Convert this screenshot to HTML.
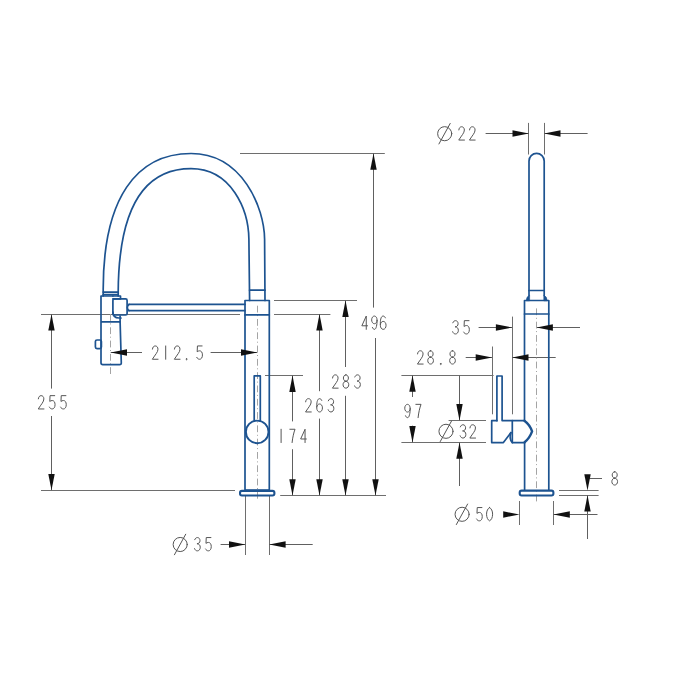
<!DOCTYPE html>
<html><head><meta charset="utf-8"><title>Faucet drawing</title>
<style>html,body{margin:0;padding:0;background:#fff;width:700px;height:700px;overflow:hidden;font-family:"Liberation Sans",sans-serif;}svg{display:block;}</style>
</head><body>
<svg width="700" height="700" viewBox="0 0 700 700">
<rect width="700" height="700" fill="#ffffff"/>
<g fill="none" stroke="#6e6e6e" stroke-width="1">
<path d="M240,153.5 L384.8,153.5"/>
<path d="M274,300.5 L357,300.5"/>
<path d="M274,314.5 L330.4,314.5"/>
<path d="M265,375.5 L303,375.5"/>
<path d="M280.2,495.5 L386,495.5"/>
<path d="M41,314.5 L240,314.5"/>
<path d="M41,490.5 L235,490.5"/>
<path d="M245.5,496 L245.5,555"/>
<path d="M269.5,496 L269.5,555"/>
<path d="M528.5,122.9 L528.5,154.5"/>
<path d="M544.5,122.9 L544.5,154.5"/>
<path d="M512.5,316.6 L512.5,414.3"/>
<path d="M492.5,346.5 L492.5,414.3"/>
<path d="M401.4,375.5 L493.6,375.5"/>
<path d="M401.4,442.5 L486,442.5"/>
<path d="M448.6,420.5 L486,420.5"/>
<path d="M519.5,501 L519.5,525"/>
<path d="M553.5,501 L553.5,525"/>
<path d="M559,490.5 L598.6,490.5"/>
<path d="M559,495.5 L598.6,495.5"/>
</g>
<g fill="none" stroke="#606060" stroke-width="1">
<path d="M373.5,153.3 L373.5,307.6"/>
<path d="M375.5,338 L375.5,495.5"/>
<path d="M345.5,300.6 L345.5,367"/>
<path d="M345.5,395.8 L345.5,495.5"/>
<path d="M319.5,314.1 L319.5,391.2"/>
<path d="M319.5,418.6 L319.5,495.5"/>
<path d="M292.5,375.6 L292.5,421.4"/>
<path d="M292.5,449.2 L292.5,495.5"/>
<path d="M51.5,314.3 L51.5,388.6"/>
<path d="M51.5,416 L51.5,490.2"/>
<path d="M110.7,352.5 L142,352.5"/>
<path d="M210.6,352.5 L257.3,352.5"/>
<path d="M220.6,544.5 L245.3,544.5"/>
<path d="M269.3,544.5 L312.7,544.5"/>
<path d="M485.6,133.5 L528.8,133.5"/>
<path d="M544.2,133.5 L587.6,133.5"/>
<path d="M478.6,327.5 L512.2,327.5"/>
<path d="M536.6,327.5 L580,327.5"/>
<path d="M465.7,357.5 L492,357.5"/>
<path d="M512.2,357.5 L555.7,357.5"/>
<path d="M412.5,375.4 L412.5,397"/>
<path d="M412.5,425.7 L412.5,442.4"/>
<path d="M459.5,375.4 L459.5,420.4"/>
<path d="M459.5,442.4 L459.5,486"/>
<path d="M553.5,514.5 L597.5,514.5"/>
<path d="M587.3,478.5 L602,478.5"/>
<path d="M587.5,495.3 L587.5,539"/>
</g>
<g fill="none" stroke="#a4a4a4" stroke-width="1" stroke-dasharray="6.8,2.6,1,2.9">
<path d="M110.5,314 L110.5,374"/>
<path d="M257.5,305.7 L257.5,499"/>
<path d="M536.5,308.4 L536.5,501.5"/>
</g>
<g fill="none" stroke="#1d5390" stroke-width="1.7" stroke-linejoin="round" stroke-linecap="round">
<path d="M103.2,296 L103.2,292 C102.56,197.74 136.73,153.5 191.02,153.5 C242.48,153.5 264.35,207.85 264.6,239.3 L265.0,300.5"/>
<path d="M118.2,296 L118.2,292 C118.61,217.89 138.23,168.7 191.02,168.7 C231.28,168.7 248.51,209.33 248.9,239.3 L249.6,300.5"/>
<path d="M103.2,292.1 L118.2,292.1"/>
<path d="M103.2,294.6 L118.2,294.6"/>
<path d="M249.6,290.2 L265.0,290.2"/>
<rect x="245" y="300.5" width="24.3" height="189.5"/>
<path d="M245,314.9 L269.3,314.9"/>
<rect x="240" y="490.9" width="34.4" height="4.6" rx="1.9" stroke-width="2.1"/>
<path d="M254.2,421 V375.8 H260.3 V421"/>
<circle cx="257.2" cy="431.9" r="11.3" stroke-width="1.9"/>
<path d="M129,304.3 L245,304.3"/>
<path d="M129,310.7 L245,310.7"/>
<path d="M129,304.3 C126.8,306 126.8,309 129,310.7"/>
<path d="M112.9,296 H101 V362.8 Q101,364.6 102.8,364.6 H119.6 Q121.4,364.6 121.3,362.8 L120.1,321.8 H101"/>
<path d="M112.9,298.9 H120.5 V296 H112.9"/>
<path d="M120.1,321.8 V316"/>
<rect x="112.9" y="298.9" width="14.2" height="16.1" rx="1.5"/>
<path d="M112.9,312 C112.9,316.5 115,318 119,318 H121"/>
<rect x="95.4" y="340" width="6" height="8.6" rx="1.6"/>
<path d="M529,295.5 V161 A7.6,7.6 0 0 1 544.2,161 V295.5"/>
<path d="M529,290.5 L544.2,290.5"/>
<path d="M524.5,420.6 V300.5 H548.8 V489.7 M524.6,442.4 V489.7"/>
<path d="M524.5,314 L548.8,314"/>
<rect x="519.7" y="490.6" width="33.7" height="4.9" rx="1.9" stroke-width="2.1"/>
<path d="M496.9,420.7 V376 H502.1 V420.6 H524.5"/>
<path d="M496.9,420.7 H491.7 V442.6 H503.4 L510.9,432.6"/>
<path d="M512.3,420.6 V442.6 H524.6"/>
<path d="M510.9,432.6 C509.6,436 509.9,440.6 512.3,442.6"/>
<path stroke-width="2.4" d="M524.4,420.8 Q529.6,424.5 532.1,431.4 Q529.6,438.3 524.6,442.2"/>
</g>
<g fill="#1d5390" stroke="#1d5390" stroke-width="0.6">
<path d="M526.2,300.8 Q526.4,296.2 529.6,295.2 V300.8 Z"/>
<path d="M547.2,300.8 Q547,296.2 543.8,295.2 V300.8 Z"/>
</g>
<g fill="#111111" stroke="none">
<path d="M373.50,153.50 L370.30,169.80 L376.70,169.80 Z"/>
<path d="M375.50,495.50 L372.30,479.20 L378.70,479.20 Z"/>
<path d="M345.50,300.60 L342.30,316.90 L348.70,316.90 Z"/>
<path d="M345.50,495.50 L342.30,479.20 L348.70,479.20 Z"/>
<path d="M319.50,314.10 L316.30,330.40 L322.70,330.40 Z"/>
<path d="M319.50,495.50 L316.30,479.20 L322.70,479.20 Z"/>
<path d="M292.50,375.60 L289.30,391.90 L295.70,391.90 Z"/>
<path d="M292.50,495.50 L289.30,479.20 L295.70,479.20 Z"/>
<path d="M51.50,314.30 L48.30,330.60 L54.70,330.60 Z"/>
<path d="M51.50,490.20 L48.30,473.90 L54.70,473.90 Z"/>
<path d="M110.70,352.50 L127.00,349.30 L127.00,355.70 Z"/>
<path d="M257.30,352.50 L241.00,349.30 L241.00,355.70 Z"/>
<path d="M245.30,544.50 L229.00,541.30 L229.00,547.70 Z"/>
<path d="M269.30,544.50 L285.60,541.30 L285.60,547.70 Z"/>
<path d="M528.80,133.50 L512.50,130.30 L512.50,136.70 Z"/>
<path d="M544.20,133.50 L560.50,130.30 L560.50,136.70 Z"/>
<path d="M512.20,327.50 L495.90,324.30 L495.90,330.70 Z"/>
<path d="M536.60,327.50 L552.90,324.30 L552.90,330.70 Z"/>
<path d="M492.00,357.50 L475.70,354.30 L475.70,360.70 Z"/>
<path d="M512.20,357.50 L528.50,354.30 L528.50,360.70 Z"/>
<path d="M412.50,375.40 L409.30,391.70 L415.70,391.70 Z"/>
<path d="M412.50,442.40 L409.30,426.10 L415.70,426.10 Z"/>
<path d="M459.50,420.40 L456.30,404.10 L462.70,404.10 Z"/>
<path d="M459.50,442.40 L456.30,458.70 L462.70,458.70 Z"/>
<path d="M519.50,514.50 L503.20,511.30 L503.20,517.70 Z"/>
<path d="M553.50,514.50 L569.80,511.30 L569.80,517.70 Z"/>
<path d="M587.50,490.60 L584.30,474.30 L590.70,474.30 Z"/>
<path d="M587.50,495.30 L584.30,511.60 L590.70,511.60 Z"/>
</g>
<g fill="none" stroke="#555555" stroke-width="1.0" stroke-linecap="round" stroke-linejoin="round">
<path transform="translate(361.85,316.05) scale(0.864,0.937)" vector-effect="non-scaling-stroke" d="M5.1,14.2 V0 L0,10.4 H6.6"/>
<path transform="translate(371.65,316.05) scale(0.864,0.937)" vector-effect="non-scaling-stroke" d="M6.3,4.2 C6.3,1.8 4.9,0 3.2,0 C1.4,0 0,1.8 0,4.1 C0,6.4 1.4,8.2 3.2,8.2 C4.9,8.2 6.3,6.4 6.3,4.2 C6.3,9.2 5.3,14.2 3.3,14.2 C2.2,14.2 1.4,13.4 0.9,12.2"/>
<path transform="translate(380.35,316.05) scale(0.864,0.937)" vector-effect="non-scaling-stroke" d="M5.8,1.9 C5.3,0.7 4.3,0 3.2,0 C1.2,0 0,3 0,7.5 V9.8 C0,12.4 1.4,14.2 3.3,14.2 C5.2,14.2 6.6,12.3 6.6,9.9 C6.6,7.5 5.2,5.7 3.3,5.7 C1.6,5.7 0.3,7.1 0,9"/>
<path transform="translate(332.45,374.85) scale(0.864,0.937)" vector-effect="non-scaling-stroke" d="M0.1,3.4 C0.3,1.3 1.6,0 3.3,0 C5.2,0 6.5,1.4 6.5,3.5 C6.5,6.6 3.4,9.2 0,14.2 H6.6"/>
<path transform="translate(343.05,374.85) scale(0.864,0.937)" vector-effect="non-scaling-stroke" d="M3.3,0 C1.7,0 0.4,1.5 0.4,3.4 C0.4,5.3 1.7,6.8 3.3,6.8 C4.9,6.8 6.2,5.3 6.2,3.4 C6.2,1.5 4.9,0 3.3,0 Z M3.3,6.8 C1.5,6.8 0,8.4 0,10.5 C0,12.6 1.5,14.2 3.3,14.2 C5.1,14.2 6.6,12.6 6.6,10.5 C6.6,8.4 5.1,6.8 3.3,6.8 Z"/>
<path transform="translate(354.65,374.85) scale(0.864,0.937)" vector-effect="non-scaling-stroke" d="M0.2,2.3 C0.9,0.7 2,0 3.3,0 C5.1,0 6.3,1.4 6.3,3.3 C6.3,5.3 4.9,6.6 2.8,6.6 C5,6.6 6.6,8.1 6.6,10.3 C6.6,12.6 5.2,14.2 3.3,14.2 C1.8,14.2 0.6,13.4 0,11.8"/>
<path transform="translate(305.55,398.65) scale(0.864,0.937)" vector-effect="non-scaling-stroke" d="M0.1,3.4 C0.3,1.3 1.6,0 3.3,0 C5.2,0 6.5,1.4 6.5,3.5 C6.5,6.6 3.4,9.2 0,14.2 H6.6"/>
<path transform="translate(316.75,398.65) scale(0.864,0.937)" vector-effect="non-scaling-stroke" d="M5.8,1.9 C5.3,0.7 4.3,0 3.2,0 C1.2,0 0,3 0,7.5 V9.8 C0,12.4 1.4,14.2 3.3,14.2 C5.2,14.2 6.6,12.3 6.6,9.9 C6.6,7.5 5.2,5.7 3.3,5.7 C1.6,5.7 0.3,7.1 0,9"/>
<path transform="translate(328.15,398.65) scale(0.864,0.937)" vector-effect="non-scaling-stroke" d="M0.2,2.3 C0.9,0.7 2,0 3.3,0 C5.1,0 6.3,1.4 6.3,3.3 C6.3,5.3 4.9,6.6 2.8,6.6 C5,6.6 6.6,8.1 6.6,10.3 C6.6,12.6 5.2,14.2 3.3,14.2 C1.8,14.2 0.6,13.4 0,11.8"/>
<path transform="translate(281.10,429.25) scale(1,0.937)" vector-effect="non-scaling-stroke" d="M0,0 V14.2"/>
<path transform="translate(289.85,429.25) scale(0.864,0.937)" vector-effect="non-scaling-stroke" d="M0,0 H6 C4.6,3.5 3.2,8.5 2.6,14.2"/>
<path transform="translate(300.65,429.25) scale(0.864,0.937)" vector-effect="non-scaling-stroke" d="M5.1,14.2 V0 L0,10.4 H6.6"/>
<path transform="translate(38.25,395.65) scale(0.864,0.937)" vector-effect="non-scaling-stroke" d="M0.1,3.4 C0.3,1.3 1.6,0 3.3,0 C5.2,0 6.5,1.4 6.5,3.5 C6.5,6.6 3.4,9.2 0,14.2 H6.6"/>
<path transform="translate(49.35,395.65) scale(0.864,0.937)" vector-effect="non-scaling-stroke" d="M6.2,0 H0.8 L0.5,6.2 C1.2,5.6 2.2,5.2 3.3,5.2 C5.3,5.2 6.6,6.9 6.6,9.6 C6.6,12.4 5.2,14.2 3.3,14.2 C1.9,14.2 0.7,13.5 0,12.2"/>
<path transform="translate(60.55,395.65) scale(0.864,0.937)" vector-effect="non-scaling-stroke" d="M6.2,0 H0.8 L0.5,6.2 C1.2,5.6 2.2,5.2 3.3,5.2 C5.3,5.2 6.6,6.9 6.6,9.6 C6.6,12.4 5.2,14.2 3.3,14.2 C1.9,14.2 0.7,13.5 0,12.2"/>
<path transform="translate(152.35,345.95) scale(0.864,0.937)" vector-effect="non-scaling-stroke" d="M0.1,3.4 C0.3,1.3 1.6,0 3.3,0 C5.2,0 6.5,1.4 6.5,3.5 C6.5,6.6 3.4,9.2 0,14.2 H6.6"/>
<path transform="translate(165.70,345.95) scale(1,0.937)" vector-effect="non-scaling-stroke" d="M0,0 V14.2"/>
<path transform="translate(174.35,345.95) scale(0.864,0.937)" vector-effect="non-scaling-stroke" d="M0.1,3.4 C0.3,1.3 1.6,0 3.3,0 C5.2,0 6.5,1.4 6.5,3.5 C6.5,6.6 3.4,9.2 0,14.2 H6.6"/>
<path transform="translate(186.60,345.95) scale(1,0.937)" vector-effect="non-scaling-stroke" d="M0,13.6 a0.55,0.55 0 1 0 0.01,0"/>
<path transform="translate(196.75,345.95) scale(0.864,0.937)" vector-effect="non-scaling-stroke" d="M6.2,0 H0.8 L0.5,6.2 C1.2,5.6 2.2,5.2 3.3,5.2 C5.3,5.2 6.6,6.9 6.6,9.6 C6.6,12.4 5.2,14.2 3.3,14.2 C1.9,14.2 0.7,13.5 0,12.2"/>
<circle cx="180.2" cy="544.5" r="7.05"/><path d="M185.70,534.25 L174.45,554.75"/>
<path transform="translate(194.55,537.55) scale(0.864,0.937)" vector-effect="non-scaling-stroke" d="M0.2,2.3 C0.9,0.7 2,0 3.3,0 C5.1,0 6.3,1.4 6.3,3.3 C6.3,5.3 4.9,6.6 2.8,6.6 C5,6.6 6.6,8.1 6.6,10.3 C6.6,12.6 5.2,14.2 3.3,14.2 C1.8,14.2 0.6,13.4 0,11.8"/>
<path transform="translate(205.55,537.55) scale(0.864,0.937)" vector-effect="non-scaling-stroke" d="M6.2,0 H0.8 L0.5,6.2 C1.2,5.6 2.2,5.2 3.3,5.2 C5.3,5.2 6.6,6.9 6.6,9.6 C6.6,12.4 5.2,14.2 3.3,14.2 C1.9,14.2 0.7,13.5 0,12.2"/>
<circle cx="444.7" cy="133.7" r="7.05"/><path d="M450.20,123.45 L438.95,143.95"/>
<path transform="translate(458.75,126.75) scale(0.864,0.937)" vector-effect="non-scaling-stroke" d="M0.1,3.4 C0.3,1.3 1.6,0 3.3,0 C5.2,0 6.5,1.4 6.5,3.5 C6.5,6.6 3.4,9.2 0,14.2 H6.6"/>
<path transform="translate(469.45,126.75) scale(0.864,0.937)" vector-effect="non-scaling-stroke" d="M0.1,3.4 C0.3,1.3 1.6,0 3.3,0 C5.2,0 6.5,1.4 6.5,3.5 C6.5,6.6 3.4,9.2 0,14.2 H6.6"/>
<path transform="translate(452.65,320.65) scale(0.864,0.937)" vector-effect="non-scaling-stroke" d="M0.2,2.3 C0.9,0.7 2,0 3.3,0 C5.1,0 6.3,1.4 6.3,3.3 C6.3,5.3 4.9,6.6 2.8,6.6 C5,6.6 6.6,8.1 6.6,10.3 C6.6,12.6 5.2,14.2 3.3,14.2 C1.8,14.2 0.6,13.4 0,11.8"/>
<path transform="translate(463.65,320.65) scale(0.864,0.937)" vector-effect="non-scaling-stroke" d="M6.2,0 H0.8 L0.5,6.2 C1.2,5.6 2.2,5.2 3.3,5.2 C5.3,5.2 6.6,6.9 6.6,9.6 C6.6,12.4 5.2,14.2 3.3,14.2 C1.9,14.2 0.7,13.5 0,12.2"/>
<path transform="translate(417.45,350.75) scale(0.864,0.937)" vector-effect="non-scaling-stroke" d="M0.1,3.4 C0.3,1.3 1.6,0 3.3,0 C5.2,0 6.5,1.4 6.5,3.5 C6.5,6.6 3.4,9.2 0,14.2 H6.6"/>
<path transform="translate(427.75,350.75) scale(0.864,0.937)" vector-effect="non-scaling-stroke" d="M3.3,0 C1.7,0 0.4,1.5 0.4,3.4 C0.4,5.3 1.7,6.8 3.3,6.8 C4.9,6.8 6.2,5.3 6.2,3.4 C6.2,1.5 4.9,0 3.3,0 Z M3.3,6.8 C1.5,6.8 0,8.4 0,10.5 C0,12.6 1.5,14.2 3.3,14.2 C5.1,14.2 6.6,12.6 6.6,10.5 C6.6,8.4 5.1,6.8 3.3,6.8 Z"/>
<path transform="translate(440.80,350.75) scale(1,0.937)" vector-effect="non-scaling-stroke" d="M0,13.6 a0.55,0.55 0 1 0 0.01,0"/>
<path transform="translate(449.65,350.75) scale(0.864,0.937)" vector-effect="non-scaling-stroke" d="M3.3,0 C1.7,0 0.4,1.5 0.4,3.4 C0.4,5.3 1.7,6.8 3.3,6.8 C4.9,6.8 6.2,5.3 6.2,3.4 C6.2,1.5 4.9,0 3.3,0 Z M3.3,6.8 C1.5,6.8 0,8.4 0,10.5 C0,12.6 1.5,14.2 3.3,14.2 C5.1,14.2 6.6,12.6 6.6,10.5 C6.6,8.4 5.1,6.8 3.3,6.8 Z"/>
<path transform="translate(404.75,404.35) scale(0.864,0.937)" vector-effect="non-scaling-stroke" d="M6.3,4.2 C6.3,1.8 4.9,0 3.2,0 C1.4,0 0,1.8 0,4.1 C0,6.4 1.4,8.2 3.2,8.2 C4.9,8.2 6.3,6.4 6.3,4.2 C6.3,9.2 5.3,14.2 3.3,14.2 C2.2,14.2 1.4,13.4 0.9,12.2"/>
<path transform="translate(415.85,404.35) scale(0.864,0.937)" vector-effect="non-scaling-stroke" d="M0,0 H6 C4.6,3.5 3.2,8.5 2.6,14.2"/>
<circle cx="446" cy="431.3" r="7.05"/><path d="M451.50,421.05 L440.25,441.55"/>
<path transform="translate(460.15,424.75) scale(0.864,0.937)" vector-effect="non-scaling-stroke" d="M0.2,2.3 C0.9,0.7 2,0 3.3,0 C5.1,0 6.3,1.4 6.3,3.3 C6.3,5.3 4.9,6.6 2.8,6.6 C5,6.6 6.6,8.1 6.6,10.3 C6.6,12.6 5.2,14.2 3.3,14.2 C1.8,14.2 0.6,13.4 0,11.8"/>
<path transform="translate(469.85,424.75) scale(0.864,0.937)" vector-effect="non-scaling-stroke" d="M0.1,3.4 C0.3,1.3 1.6,0 3.3,0 C5.2,0 6.5,1.4 6.5,3.5 C6.5,6.6 3.4,9.2 0,14.2 H6.6"/>
<circle cx="462.1" cy="514.3" r="7.05"/><path d="M467.60,504.05 L456.35,524.55"/>
<path transform="translate(476.55,507.55) scale(0.864,0.937)" vector-effect="non-scaling-stroke" d="M6.2,0 H0.8 L0.5,6.2 C1.2,5.6 2.2,5.2 3.3,5.2 C5.3,5.2 6.6,6.9 6.6,9.6 C6.6,12.4 5.2,14.2 3.3,14.2 C1.9,14.2 0.7,13.5 0,12.2"/>
<path transform="translate(486.55,507.55) scale(0.864,0.937)" vector-effect="non-scaling-stroke" d="M3.5,0 C1.4,1 0,3.6 0,7.1 C0,10.6 1.4,13.2 3.5,14.2 C5.6,13.2 7,10.6 7,7.1 C7,3.6 5.6,1 3.5,0 Z"/>
<path transform="translate(611.85,471.75) scale(0.864,0.937)" vector-effect="non-scaling-stroke" d="M3.3,0 C1.7,0 0.4,1.5 0.4,3.4 C0.4,5.3 1.7,6.8 3.3,6.8 C4.9,6.8 6.2,5.3 6.2,3.4 C6.2,1.5 4.9,0 3.3,0 Z M3.3,6.8 C1.5,6.8 0,8.4 0,10.5 C0,12.6 1.5,14.2 3.3,14.2 C5.1,14.2 6.6,12.6 6.6,10.5 C6.6,8.4 5.1,6.8 3.3,6.8 Z"/>
</g>
</svg>
</body></html>
